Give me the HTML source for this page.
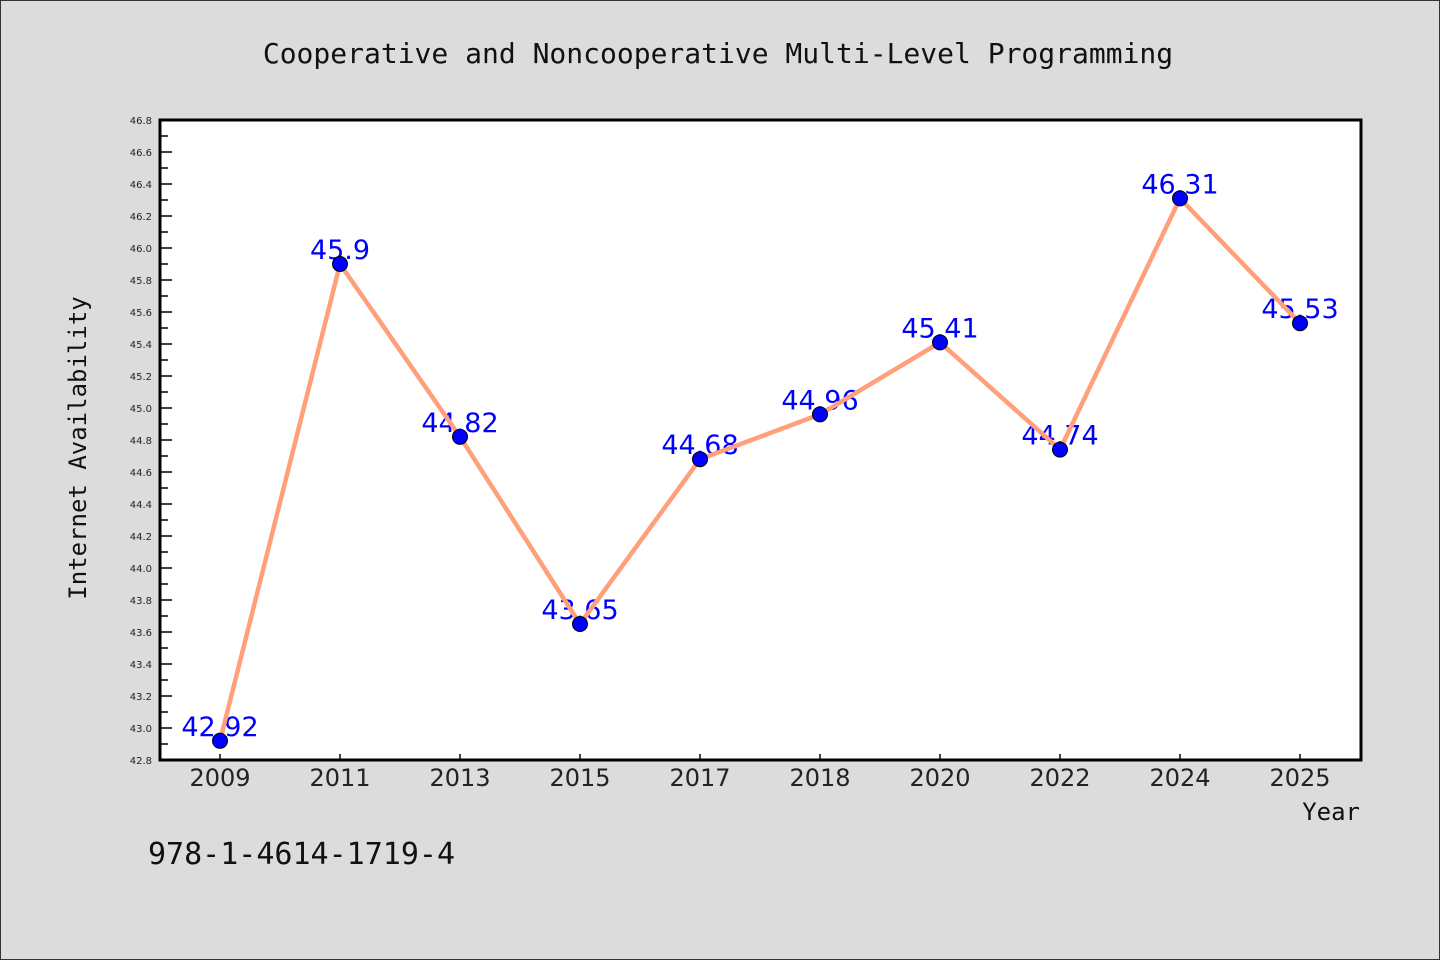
<!DOCTYPE html>
<html><head><meta charset="utf-8"><style>
html,body{margin:0;padding:0;background:#dcdcdc;}
svg{display:block;font-family:"DejaVu Sans","Liberation Sans",sans-serif;}
</style></head><body>
<svg id="chart" width="1440" height="960">
<rect x="0.5" y="0.5" width="1439" height="959" fill="#dcdcdc" stroke="#333"/>
<text x="718" y="63" text-anchor="middle" font-size="28" font-family="DejaVu Sans Mono, Liberation Mono, monospace" fill="#111">Cooperative and Noncooperative Multi-Level Programming</text>
<rect x="160" y="120" width="1201" height="640" fill="#fff"/>
<g id="yaxis"></g>
<g id="xaxis"></g>
<g id="labels"></g>
<g id="series"></g>
<rect x="160" y="120" width="1201" height="640" fill="none" stroke="#000" stroke-width="3"/>
<text x="86" y="448" transform="rotate(-90 86 448)" text-anchor="middle" font-size="24" font-family="DejaVu Sans Mono, Liberation Mono, monospace" fill="#111">Internet Availability</text>
<text x="1360" y="820" text-anchor="end" font-size="24" font-family="DejaVu Sans Mono, Liberation Mono, monospace" fill="#111">Year</text>
<text x="148" y="864" font-size="30" font-family="DejaVu Sans Mono, Liberation Mono, monospace" fill="#111">978-1-4614-1719-4</text>
</svg>
<script>
const categories = ["2009","2011","2013","2015","2017","2018","2020","2022","2024","2025"];
const values = [42.92,45.9,44.82,43.65,44.68,44.96,45.41,44.74,46.31,45.53];
const valueLabels = ["42.92","45.9","44.82","43.65","44.68","44.96","45.41","44.74","46.31","45.53"];
const yTicks = ["42.8","43.0","43.2","43.4","43.6","43.8","44.0","44.2","44.4","44.6","44.8","45.0","45.2","45.4","45.6","45.8","46.0","46.2","46.4","46.6","46.8"];
const NS="http://www.w3.org/2000/svg";
const L=160,R=1361,T=120,B=760,yMin=42.8,yMax=46.8;
const xs=i=>220+i*(1300-220)/(categories.length-1);
const ys=v=>B-(v-yMin)/(yMax-yMin)*(B-T);
function mk(t,a,p){const e=document.createElementNS(NS,t);for(const k in a)e.setAttribute(k,a[k]);p.appendChild(e);return e;}
const ya=document.getElementById('yaxis');
yTicks.forEach((t,i)=>{const y=ys(parseFloat(t));
 const tk=mk('line',{x1:L,x2:L+12,y1:y,y2:y,stroke:'#000','stroke-width':1.5},ya);
 
 
 const tx=mk('text',{x:152,y:y+4,'text-anchor':'end','font-size':10,fill:'#222'},ya);tx.textContent=t;
 
 
 if(i<yTicks.length-1){const ym=ys(parseFloat(t)+0.1);
  const mt=mk('line',{x1:L,x2:L+8,y1:ym,y2:ym,stroke:'#000','stroke-width':1.5},ya);
  
  }
});
const xa=document.getElementById('xaxis');
categories.forEach((c,i)=>{const x=xs(i);
 const tk=mk('line',{x1:x,x2:x,y1:B,y2:B-6,stroke:'#000','stroke-width':1.5},xa);
 
 
 const tx=mk('text',{x:x,y:786,'text-anchor':'middle','font-size':24,fill:'#222'},xa);tx.textContent=c;
 
 
});
const lb=document.getElementById('labels');
values.forEach((v,i)=>{const t=mk('text',{x:xs(i),y:ys(v)-5,'text-anchor':'middle','font-size':27,fill:'#0000ff'},lb);t.textContent=valueLabels[i];
 
 });
const sg=document.getElementById('series');
const pl=mk('polyline',{points:values.map((v,i)=>xs(i)+','+ys(v)).join(' '),fill:'none',stroke:'#ffa07a','stroke-width':4.5,'stroke-linejoin':'round'},sg);


values.forEach((v,i)=>{const c=mk('circle',{cx:xs(i),cy:ys(v),r:7.5,fill:'#0000ff',stroke:'#000','stroke-width':1},sg);
 
 });
</script>
</body></html>
